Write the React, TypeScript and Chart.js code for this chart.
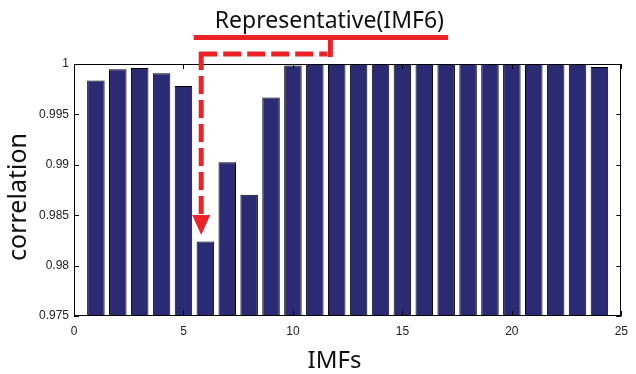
import React, { useEffect, useRef } from 'react';
import { Chart, registerables } from 'chart.js';

Chart.register(...registerables);

// ---- data ----
const imfs = [1, 2, 3, 4, 5, 6, 7, 8, 9, 10, 11, 12, 13, 14, 15, 16, 17, 18, 19, 20, 21, 22, 23, 24];
const correlation = [
  0.99836, 0.99947, 0.9996, 0.99908, 0.99782, 0.9824, 0.99026, 0.98702, 0.99667, 0.99984,
  1, 1, 1, 1, 1, 1, 1, 1, 1, 1, 1, 1, 1, 0.9997,
];
const xTicks = [0, 5, 10, 15, 20, 25];
const yTicks = [0.975, 0.98, 0.985, 0.99, 0.995, 1];
const xTitle = 'IMFs';
const yTitle = 'correlation';
const annotationText = 'Representative(IMF6)';
// annotation anchors in data units
const arrowX = 5.81;
const connectorX = 11.71;
const lineStartX = 5.47;
const lineEndX = 17.09;
const arrowTipY = 0.98303;
const arrowHeadTopY = 0.98501;

const RED = '#ec2227';
const TITLE_FONT = '"Noto Sans", sans-serif';

const decorPlugin = {
  id: 'decor',
  afterDatasetsDraw(chart: any) {
    const { ctx, chartArea } = chart;
    const xs = chart.scales.x;
    const ys = chart.scales.y;
    const { left, right, top, bottom } = chartArea;
    ctx.save();
    // box
    ctx.strokeStyle = '#000';
    ctx.lineWidth = 1;
    ctx.strokeRect(Math.round(left) + 0.5, Math.round(top) + 0.5, Math.round(right - left) - 1, Math.round(bottom - top) - 1);
    // inward ticks
    const tl = 5;
    ctx.beginPath();
    xTicks.forEach((v) => {
      const px = Math.round(xs.getPixelForValue(v)) + 0.5;
      ctx.moveTo(px, bottom);
      ctx.lineTo(px, bottom - tl);
      ctx.moveTo(px, top);
      ctx.lineTo(px, top + tl);
    });
    yTicks.forEach((v) => {
      const py = Math.round(ys.getPixelForValue(v)) + 0.5;
      ctx.moveTo(left, py);
      ctx.lineTo(left + tl, py);
      ctx.moveTo(right, py);
      ctx.lineTo(right - tl, py);
    });
    ctx.stroke();
    ctx.restore();
  },
  afterDraw(chart: any) {
    const { ctx, chartArea } = chart;
    const xs = chart.scales.x;
    const ys = chart.scales.y;
    const { top, bottom } = chartArea;
    ctx.save();
    // axis titles
    ctx.fillStyle = '#111';
    ctx.font = `24px ${TITLE_FONT}`;
    ctx.textAlign = 'center';
    ctx.textBaseline = 'alphabetic';
    ctx.fillText(xTitle, xs.getPixelForValue(11.9), 368);
    ctx.save();
    ctx.translate(26, (top + bottom) / 2 + 7);
    ctx.rotate(-Math.PI / 2);
    ctx.font = `25px ${TITLE_FONT}`;
    ctx.fillText(yTitle, 0, 0);
    ctx.restore();

    // annotation
    const ax = xs.getPixelForValue(arrowX);
    const cx = xs.getPixelForValue(connectorX);
    const x0 = xs.getPixelForValue(lineStartX);
    const x1 = xs.getPixelForValue(lineEndX);
    const solidY = top - 26.5;
    const dashY = top - 10;
    ctx.fillStyle = '#111';
    ctx.font = `23px ${TITLE_FONT}`;
    ctx.textAlign = 'center';
    ctx.fillText(annotationText, cx - 1, top - 36);

    ctx.strokeStyle = RED;
    ctx.fillStyle = RED;
    ctx.lineWidth = 5;
    ctx.lineCap = 'butt';
    ctx.beginPath();
    ctx.moveTo(x0, solidY);
    ctx.lineTo(x1, solidY);
    ctx.stroke();
    ctx.beginPath();
    ctx.moveTo(cx, solidY);
    ctx.lineTo(cx, dashY + 3);
    ctx.stroke();

    ctx.setLineDash([18, 6]);
    ctx.beginPath();
    ctx.moveTo(ax - 2, dashY);
    ctx.lineTo(cx - 3, dashY);
    ctx.stroke();
    const headTop = ys.getPixelForValue(arrowHeadTopY);
    ctx.beginPath();
    ctx.moveTo(ax, dashY - 2);
    ctx.lineTo(ax, headTop);
    ctx.stroke();
    ctx.setLineDash([]);
    const tip = ys.getPixelForValue(arrowTipY);
    ctx.beginPath();
    ctx.moveTo(ax - 9, headTop);
    ctx.lineTo(ax + 9, headTop);
    ctx.lineTo(ax, tip);
    ctx.closePath();
    ctx.fill();
    ctx.restore();
  },
};

export default function App() {
  const ref = useRef<HTMLCanvasElement>(null);
  useEffect(() => {
    if (!ref.current) return;
    const tickFont = { family: '"Liberation Sans", Arial, sans-serif', size: 12 };
    const chart = new Chart(ref.current, {
      type: 'bar',
      data: {
        datasets: [
          {
            data: imfs.map((x, i) => ({ x, y: correlation[i] })),
            backgroundColor: '#2b2b73',
            borderColor: '#000',
            borderWidth: 1,
            categoryPercentage: 1,
            barPercentage: 0.8,
          },
        ],
      },
      options: {
        animation: false,
        responsive: false,
        maintainAspectRatio: false,
        layout: { padding: { left: 0, right: 9, top: 64, bottom: 0 } },
        plugins: { legend: { display: false }, tooltip: { enabled: false } },
        scales: {
          x: {
            type: 'linear',
            min: 0,
            max: 25,
            offset: false,
            grid: { display: false, drawTicks: false, offset: false },
            border: { display: false },
            afterBuildTicks: (s: any) => {
              s.ticks = xTicks.map((v) => ({ value: v }));
            },
            ticks: { font: tickFont, color: '#222', padding: 8, maxRotation: 0, autoSkip: false },
            afterFit: (s: any) => {
              s.height = 58;
            },
          },
          y: {
            min: 0.975,
            max: 1,
            grid: { display: false, drawTicks: false },
            border: { display: false },
            afterBuildTicks: (s: any) => {
              s.ticks = yTicks.map((v) => ({ value: v }));
            },
            ticks: {
              font: tickFont,
              color: '#222',
              padding: 5,
              callback: (v: any) => String(Number(Number(v).toFixed(3))),
            },
            afterFit: (s: any) => {
              s.width = 74;
            },
          },
        },
      },
      plugins: [decorPlugin],
    } as any);
    return () => chart.destroy();
  }, []);
  return (
    <div style={{ position: 'fixed', left: 0, top: 0, width: 636, height: 374, background: '#fff' }}>
      <canvas ref={ref} width={636} height={374} style={{ display: 'block' }} />
    </div>
  );
}
